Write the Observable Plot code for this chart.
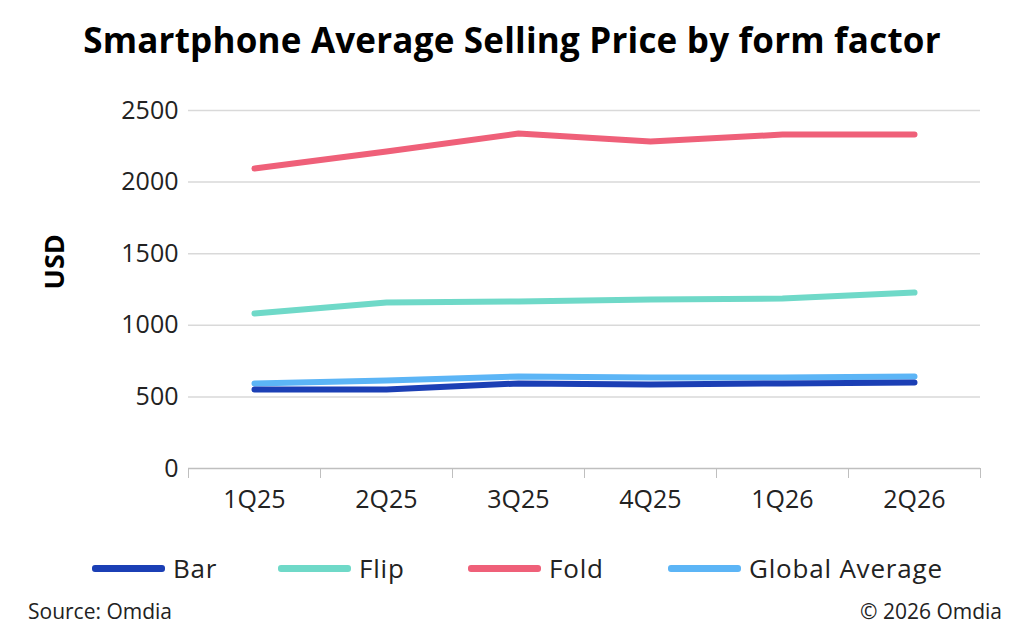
<!DOCTYPE html>
<html><head><meta charset="utf-8">
<script src="https://cdn.jsdelivr.net/npm/d3@7"></script>
<script src="https://cdn.jsdelivr.net/npm/@observablehq/plot@0.6"></script>
<style>
body{margin:0;background:#fff;font-family:"Open Sans",Roboto,sans-serif;width:1024px;height:637px;position:relative;overflow:hidden}
#title{position:absolute;top:16px;left:0;width:1024px;text-align:center;font-weight:bold;font-size:35px;color:#000;font-family:"Open Sans",sans-serif;letter-spacing:0.2px}
#chart{position:absolute;top:85px;left:0}
#legend{position:absolute;top:550px;left:0;width:1024px;height:30px;font-size:26px;letter-spacing:0.8px;color:#222}
.item{position:absolute;display:flex;align-items:center}
.sw{width:73px;height:7px;border-radius:3px;margin-right:8px}
#src{position:absolute;top:597px;left:28px;font-size:21px;color:#222}
#copy{position:absolute;top:597px;right:22px;font-size:21px;color:#222}
</style></head><body>
<div id="title">Smartphone Average Selling Price by form factor</div>
<div id="chart"></div>
<div id="legend"></div>
<div id="src">Source: Omdia</div>
<div id="copy">© 2026 Omdia</div>
<script>
const quarters = ["1Q25","2Q25","3Q25","4Q25","1Q26","2Q26"];
const seriesNames = ["Bar","Flip","Fold","Global Average"];
const colors = ["#1b3fb5","#6fd9c8","#ef6079","#5cb5f6"];
const barVals = [552,552,594,587,594,600];
const flipVals = [1082,1159,1166,1180,1187,1229];
const foldVals = [2095,2214,2339,2283,2332,2332];
const globalVals = [594,615,642,635,635,642];
const yTicks = [0,500,1000,1500,2000,2500];

const allVals = [barVals,flipVals,foldVals,globalVals];
const data = [];
seriesNames.forEach((s,si)=>allVals[si].forEach((v,i)=>data.push({series:s,q:i+0.5,v})));
const drawOrder = ["Fold","Flip","Global Average","Bar"];

const plot = Plot.plot({
  width:1024, height:440,
  marginLeft:188, marginRight:44, marginTop:25, marginBottom:57,
  style:{fontSize:"25px",fontFamily:"Open Sans, sans-serif",color:"#222"},
  x:{domain:[0,6]},
  y:{domain:[0,2500]},
  color:{domain:seriesNames,range:colors},
  marks:[
    Plot.gridY(yTicks.filter(t=>t>0),{stroke:"#d9d9d9",strokeOpacity:1,strokeWidth:1.5}),
    Plot.axisY({ticks:yTicks,tickFormat:d=>String(d),tickSize:0,tickPadding:10,label:null,fontSize:25}),
    Plot.text(["USD"],{frameAnchor:"left",dx:-133,rotate:-90,fontWeight:"bold",fontSize:27,fill:"#000"}),
    Plot.ruleY([0],{stroke:"#bfbfbf",strokeWidth:1.5}),
    Plot.axisX({ticks:[0,1,2,3,4,5,6],tickFormat:()=>"",tickSize:10,stroke:"#bfbfbf",label:null}),
    Plot.axisX({ticks:[0.5,1.5,2.5,3.5,4.5,5.5],tickFormat:d=>quarters[Math.round(d-0.5)],tickSize:0,tickPadding:22,label:null,fontSize:25}),
    ...drawOrder.map(s=>Plot.line(data.filter(d=>d.series===s),{x:"q",y:"v",stroke:"series",strokeWidth:6,strokeLinecap:"round",strokeLinejoin:"round"}))
  ]
});
document.getElementById("chart").appendChild(plot);

const pos=[92,278,468,668];
const lg=document.getElementById("legend");
seriesNames.forEach((s,i)=>{
  const d=document.createElement("div");d.className="item";d.style.left=pos[i]+"px";
  d.innerHTML=`<div class="sw" style="background:${colors[i]}"></div><span>${s}</span>`;
  lg.appendChild(d);
});
</script></body></html>
